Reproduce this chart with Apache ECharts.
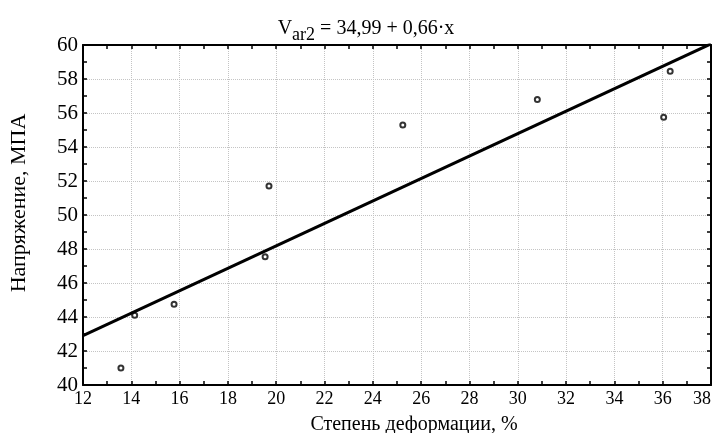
<!DOCTYPE html>
<html>
<head>
<meta charset="utf-8">
<script src="https://cdn.jsdelivr.net/npm/echarts@6/dist/echarts.min.js"></script>
<style>
  html, body { margin: 0; padding: 0; background: #fff; }
  #container { width: 713px; height: 433px; }
</style>
</head>
<body>
<div id="container"></div>
<script>
  // measured points: [deformation %, stress MPa]
  var points = [
    [13.57, 41.0],
    [14.14, 44.1],
    [15.77, 44.75],
    [19.54, 47.55],
    [19.70, 51.7],
    [25.24, 55.3],
    [30.81, 56.8],
    [36.04, 55.75],
    [36.31, 58.45]
  ];
  // regression line Var2 = 34,99 + 0,66*x, read at the plot edges
  var fitLine = [
    [12, 42.91],
    [38, 60.07]
  ];
  var xRange = [12, 38];
  var yRange = [40, 60];

  var font = '"Liberation Serif", "Times New Roman", serif';
  var myChart = echarts.init(document.getElementById('container'));

  var boxAxis = {
    axisLine: {show: true, onZero: false, lineStyle: {color: '#000', width: 2}},
    axisTick: {show: true, inside: true, length: 4, lineStyle: {color: '#000', width: 1.5}},
    minorTick: {show: true, splitNumber: 2, length: 4, lineStyle: {color: '#000', width: 1.5}},
    axisLabel: {show: false},
    splitLine: {show: false}
  };

  var option = {
    backgroundColor: '#fff',
    animation: false,
    title: {
      text: '{v|V}{s|ar2}{v| = 34,99 + 0,66·x}',
      left: 361,
      textAlign: 'center',
      top: 8,
      textStyle: {
        fontWeight: 'normal',
        rich: {
          v: {fontFamily: font, fontSize: 20, fontWeight: 'normal', color: '#000', lineHeight: 26, verticalAlign: 'bottom'},
          s: {fontFamily: font, fontSize: 18, fontWeight: 'normal', color: '#000', lineHeight: 26, verticalAlign: 'bottom', padding: [0, 0, -5, 0]}
        }
      }
    },
    grid: {left: 83, right: 2, top: 45, bottom: 48, outerBoundsMode: 'none'},
    xAxis: [
      {
        type: 'value',
        min: xRange[0], max: xRange[1], interval: 2,
        name: 'Степень деформации, %',
        nameLocation: 'middle',
        nameGap: 30,
        nameTextStyle: {fontFamily: font, fontSize: 20, color: '#000', padding: [0, 0, 0, 34]},
        axisLine: {show: true, onZero: false, lineStyle: {color: '#000', width: 2}},
        axisTick: {show: true, inside: true, length: 4, lineStyle: {color: '#000', width: 1.5}},
        minorTick: {show: true, splitNumber: 2, length: 4, lineStyle: {color: '#000', width: 1.5}},
        axisLabel: {fontFamily: font, fontSize: 18, color: '#000', margin: 5, alignMaxLabel: 'right'},
        splitLine: {show: true, lineStyle: {color: '#c4c4c4', type: 'dotted', width: 1}}
      },
      Object.assign({type: 'value', position: 'top', min: xRange[0], max: xRange[1], interval: 2}, boxAxis)
    ],
    yAxis: [
      {
        type: 'value',
        min: yRange[0], max: yRange[1], interval: 2,
        name: 'Напряжение, МПА',
        nameLocation: 'middle',
        nameGap: 53,
        nameTextStyle: {fontFamily: font, fontSize: 22, color: '#000', padding: [0, 0, 0, 24]},
        axisLine: {show: true, onZero: false, lineStyle: {color: '#000', width: 2}},
        axisTick: {show: true, inside: true, length: 4, lineStyle: {color: '#000', width: 1.5}},
        minorTick: {show: true, splitNumber: 2, length: 4, lineStyle: {color: '#000', width: 1.5}},
        axisLabel: {fontFamily: font, fontSize: 21, color: '#000', margin: 5},
        splitLine: {show: true, lineStyle: {color: '#c4c4c4', type: 'dotted', width: 1}}
      },
      Object.assign({type: 'value', position: 'right', min: yRange[0], max: yRange[1], interval: 2}, boxAxis)
    ],
    series: [
      {
        type: 'line',
        data: fitLine,
        symbol: 'none',
        clip: true,
        lineStyle: {color: '#000', width: 3}
      },
      {
        type: 'scatter',
        data: points,
        symbol: 'circle',
        symbolSize: 5,
        itemStyle: {color: '#fff', borderColor: '#000', borderWidth: 2}
      }
    ]
  };

  myChart.setOption(option);
</script>
</body>
</html>
